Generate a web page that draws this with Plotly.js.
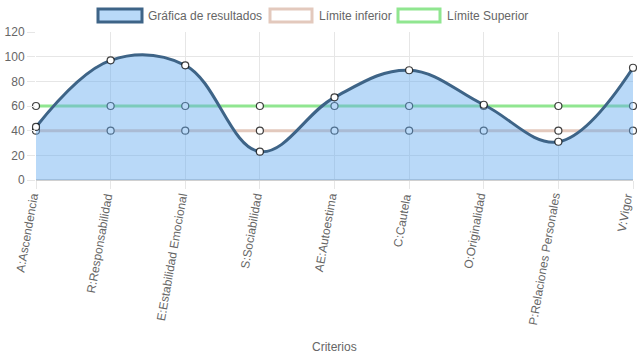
<!DOCTYPE html>
<html>
<head>
<meta charset="utf-8">
<script src="https://cdn.plot.ly/plotly-3.0.1.min.js"></script>
<style>html,body{margin:0;padding:0;background:#fff;}#chart{width:637px;height:359px;}</style>
</head>
<body>
<div id="chart"></div>
<script>
const categories = ["A:Ascendencia","R:Responsabilidad","E:Estabilidad Emocional","S:Sociabilidad","AE:Autoestima","C:Cautela","O:Originalidad","P:Relaciones Personales","V:Vigor"];
const resultados = [43, 97, 93, 23, 67, 89, 61, 31, 91];
const limiteInferior = [40, 40, 40, 40, 40, 40, 40, 40, 40];
const limiteSuperior = [60, 60, 60, 60, 60, 60, 60, 60, 60];
const seriesNames = ["Gráfica de resultados", "Límite inferior", "Límite Superior"];
const xTitle = "Criterios";
const yTicks = [0, 20, 40, 60, 80, 100, 120];

const markerStyle = {size: 7, color: "#ffffff", line: {color: "rgba(0,0,0,0.75)", width: 1.2}};
const font = {family: "Liberation Sans, Arial, sans-serif", size: 12, color: "#666"};

const traces = [
  {x: categories, y: limiteInferior, name: seriesNames[1], type: "scatter", mode: "lines+markers",
   line: {color: "#e3c9bd", width: 3}, marker: markerStyle, cliponaxis: false, showlegend: false},
  {x: categories, y: limiteSuperior, name: seriesNames[2], type: "scatter", mode: "lines+markers",
   line: {color: "#90e690", width: 3}, marker: markerStyle, cliponaxis: false, showlegend: false},
  {x: categories, y: resultados, name: seriesNames[0], type: "scatter", mode: "lines+markers",
   fill: "tozeroy", fillcolor: "rgba(100,170,240,0.45)",
   line: {color: "rgb(62,100,135)", width: 3, shape: "spline", smoothing: 1.1},
   marker: markerStyle, cliponaxis: false, showlegend: false}
];

const W = 637, H = 359;
const M = {l: 36, r: 4, t: 32, b: 179};
const pw = W - M.l - M.r, ph = H - M.t - M.b;
const px2x = px => (px - M.l) / pw;
const py2y = py => (H - M.b - py) / ph;

// custom legend (boxes like the reference)
const legendItems = [
  {x0: 98, x1: 142, fill: "rgba(100,170,240,0.45)", line: "rgb(62,100,135)", tx: 146, text: seriesNames[0]},
  {x0: 270, x1: 312, fill: "rgba(0,0,0,0)", line: "#e3c9bd", tx: 317, text: seriesNames[1]},
  {x0: 398, x1: 440, fill: "rgba(0,0,0,0)", line: "#90e690", tx: 445, text: seriesNames[2]}
];
const shapes = legendItems.map(it => ({
  type: "rect", xref: "paper", yref: "paper",
  x0: px2x(it.x0), x1: px2x(it.x1), y0: py2y(22), y1: py2y(9),
  fillcolor: it.fill, line: {color: it.line, width: 3}
}));
const annotations = legendItems.map(it => ({
  xref: "paper", yref: "paper", x: px2x(it.tx), y: py2y(15.5),
  xanchor: "left", yanchor: "middle", text: it.text, showarrow: false, font: font
}));

// rotated category labels, placed on the category axis
categories.forEach((c, i) => {
  annotations.push({
    xref: "x", yref: "paper", x: c, y: 0,
    xanchor: "right", yanchor: "top", textangle: -80,
    xshift: i === categories.length - 1 ? 3 : 6, yshift: -11,
    text: c, showarrow: false, font: font, borderpad: 0
  });
});
// axis title
annotations.push({
  xref: "paper", yref: "paper", x: 0.5, y: py2y(347),
  xanchor: "center", yanchor: "middle", text: xTitle, showarrow: false, font: font
});

const layout = {
  width: W, height: H,
  margin: M,
  paper_bgcolor: "#fff", plot_bgcolor: "#fff",
  font: font,
  showlegend: false,
  xaxis: {
    type: "category", range: [0, categories.length - 1],
    showticklabels: false,
    showgrid: true, gridcolor: "#e6e6e6", gridwidth: 1,
    ticks: "outside", ticklen: 8, tickcolor: "#e6e6e6",
    showline: false, zeroline: false
  },
  yaxis: {
    range: [0, 120], tickvals: yTicks, tickfont: font,
    showgrid: true, gridcolor: "#e6e6e6", gridwidth: 1,
    ticks: "outside", ticklen: 8, tickcolor: "#e6e6e6",
    zeroline: true, zerolinecolor: "#d0d0d0", zerolinewidth: 2,
    showline: false
  },
  shapes: shapes,
  annotations: annotations
};

Plotly.newPlot("chart", traces, layout, {displayModeBar: false, staticPlot: true});
</script>
</body>
</html>
